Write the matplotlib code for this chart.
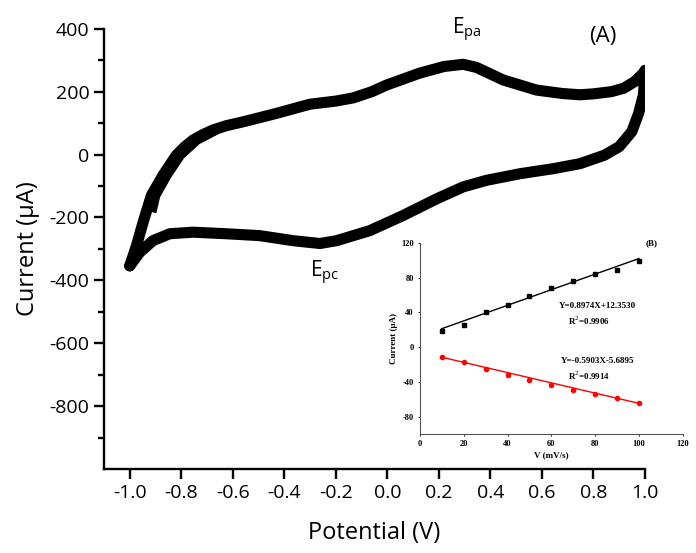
import numpy as np
import matplotlib
matplotlib.use("Agg")
import matplotlib.pyplot as plt

plt.rcParams['font.family'] = ['Open Sans', 'DejaVu Sans']
plt.rcParams['mathtext.fontset'] = 'custom'
plt.rcParams['mathtext.rm'] = 'Open Sans'
plt.rcParams['mathtext.it'] = 'Open Sans'
plt.rcParams['axes.unicode_minus'] = False

# ---- CV loop (A) ----
# anodic sweep, -1.0 -> 1.0 V
fwd_potential = [-1.0, -0.974, -0.948, -0.916, -0.871, -0.819, -0.786, -0.754,
                 -0.715, -0.677, -0.624, -0.560, -0.430, -0.301, -0.200, -0.133,
                 -0.060, -0.003, 0.126, 0.220, 0.294, 0.346, 0.450, 0.579,
                 0.680, 0.748, 0.800, 0.870, 0.918, 0.960, 0.994, 1.0]
fwd_current = [-354, -290, -215, -130, -66, -2, 25, 46,
               64, 78, 92, 104, 131, 160, 170, 180,
               200, 221, 259, 280, 287, 277, 237, 205,
               194, 190, 193, 200, 211, 232, 259, 268]
# cathodic sweep, 1.0 -> -1.0 V
rev_potential = [1.0, 0.994, 0.975, 0.949, 0.900, 0.843, 0.748, 0.644, 0.515,
                 0.385, 0.294, 0.191, 0.061, -0.068, -0.197, -0.262, -0.366,
                 -0.495, -0.624, -0.754, -0.845, -0.910, -0.961, -1.0]
rev_current = [268, 190, 130, 73, 25, -2, -29, -45, -61,
               -82, -103, -141, -194, -242, -274, -283, -274,
               -258, -252, -247, -252, -274, -311, -354]
# second cycle, visible only where it splits from the first (upper left)
cyc2_potential = [-0.915, -0.900, -0.856, -0.804, -0.740, -0.665]
cyc2_current = [-183, -130, -66, -2, 46, 78]

# ---- scan-rate plot (B) ----
scan_rate = [10, 20, 30, 40, 50, 60, 70, 80, 90, 100]
ipa = [19, 26, 40, 48, 59, 68, 76, 84, 89, 99]
ipc = [-11, -17, -25, -32, -38, -43, -49, -54, -59, -64]
fit_a = (0.8974, 12.3530)
fit_c = (-0.5903, -5.6895)

fig = plt.figure(figsize=(6.96, 5.53), dpi=100)
ax = fig.add_axes([0.1494, 0.152, 0.7773, 0.796])

cv_x = fwd_potential + rev_potential
cv_y = fwd_current + rev_current
ax.plot(cv_x, cv_y, color='black', lw=8.0, solid_joinstyle='round',
        solid_capstyle='round')
ax.plot(cyc2_potential, cyc2_current, color='black', lw=7.0,
        solid_capstyle='butt', solid_joinstyle='round')

ax.set_xlim(-1.1, 1.0)
ax.set_ylim(-1000, 400)
xt = np.arange(-1.0, 1.01, 0.2)
ax.set_xticks(xt)
ax.set_xticklabels([f"{v:.1f}".replace("-0.0", "0.0") for v in xt])
ax.set_yticks(np.arange(-800, 401, 200))
ax.set_yticks(np.arange(-900, 400, 200), minor=True)
for s in ['top', 'right']:
    ax.spines[s].set_visible(False)
for s in ['left', 'bottom']:
    ax.spines[s].set_linewidth(1.7)
ax.tick_params(which='major', direction='out', length=7, width=1.7, labelsize=14)
ax.tick_params(which='minor', direction='out', length=4, width=1.7)
ax.set_xlabel('Potential (V)', fontsize=17, labelpad=14)
ax.set_ylabel('Current (\u03bcA)', fontsize=17, labelpad=7)

ax.text(0.25, 381, r'E$_{\mathrm{pa}}$', fontsize=15, ha='left', va='baseline')
ax.text(-0.30, -390, r'E$_{\mathrm{pc}}$', fontsize=15, ha='left', va='baseline')
ax.text(0.835, 376, '(A)', fontsize=16, ha='center', va='center')

# ---- inset ----
serif = ['Liberation Serif', 'DejaVu Serif']
ins = fig.add_axes([0.6034, 0.2152, 0.3776, 0.3454])
xfit = np.array([scan_rate[0], scan_rate[-1]])
ins.plot(xfit, fit_a[0] * xfit + fit_a[1], color='black', lw=1.0)
ins.plot(scan_rate, ipa, 's', color='black', ms=2.5)
ins.plot(xfit, fit_c[0] * xfit + fit_c[1], color='red', lw=1.0)
ins.plot(scan_rate, ipc, 'o', color='red', ms=3)
ins.set_xlim(0, 120)
ins.set_ylim(-100, 120)
ins.set_xticks(np.arange(0, 121, 20))
ins.set_yticks(np.arange(-80, 121, 40))
for s in ['top', 'right']:
    ins.spines[s].set_visible(False)
for s in ['left', 'bottom']:
    ins.spines[s].set_linewidth(0.8)
    ins.spines[s].set_color('#555555')
ins.tick_params(length=1.5, width=0.6, labelsize=6, pad=3)
for lab in ins.get_xticklabels() + ins.get_yticklabels():
    lab.set_family(serif)
    lab.set_fontweight('bold')
ins.set_xlabel('V (mV/s)', fontsize=6.5, family=serif, fontweight='bold', labelpad=2)
ins.set_ylabel('Current (\u03bcA)', fontsize=6.5, family=serif, fontweight='bold', labelpad=2)
ins.patch.set_alpha(0)

tkw = dict(fontsize=6.5, family=serif, fontweight='bold', ha='center', va='center')
ins.text(81, 47, f'Y={fit_a[0]:.4f}X+{fit_a[1]:.4f}', **tkw)
ins.text(77, 30, 'R$^2$=0.9906', **tkw)
ins.text(81, -16, f'Y={fit_c[0]:.4f}X{fit_c[1]:.4f}', **tkw)
ins.text(77, -33, 'R$^2$=0.9914', **tkw)
ins.text(106, 120, '(B)', **tkw)

fig.savefig('out.png', dpi=100)
